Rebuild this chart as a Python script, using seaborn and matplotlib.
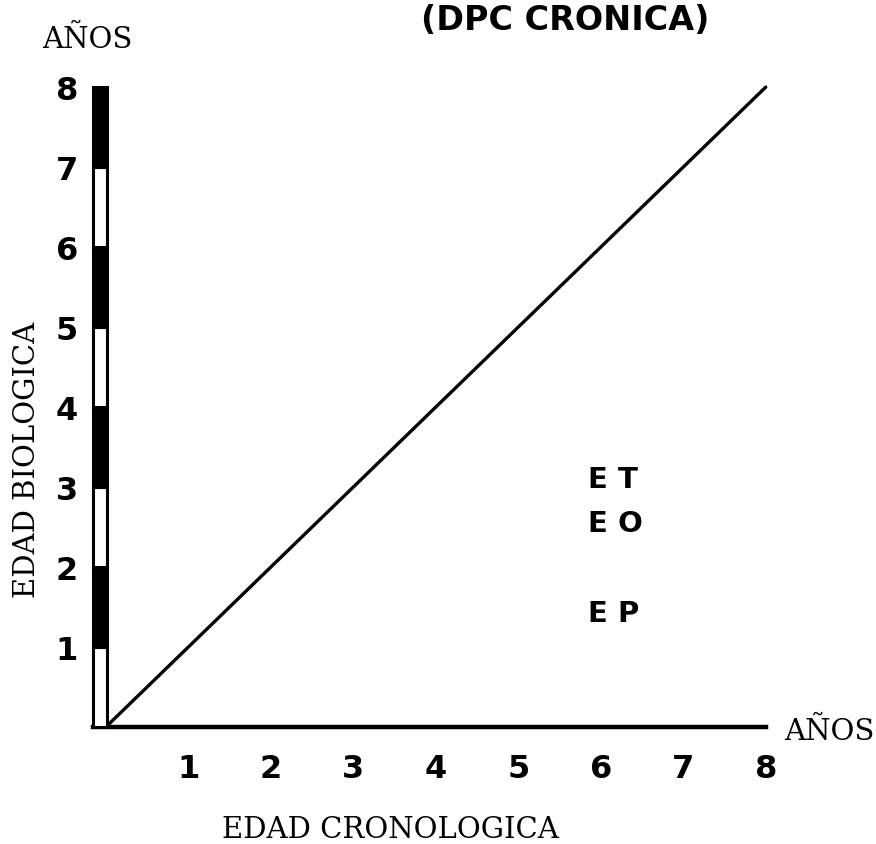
import matplotlib
matplotlib.use("Agg")
import matplotlib.pyplot as plt
import seaborn as sns
import pandas as pd

# datos
edad_crono = [0, 8]          # diagonal edad cronologica
edad_bio = [0, 8]            # = edad biologica
segmentos = [0, 1, 2, 3, 4, 5, 6, 7]   # tramos de la barra (anos)
ticks_x = [1, 2, 3, 4, 5, 6, 7, 8]
ticks_y = [1, 2, 3, 4, 5, 6, 7, 8]
etiquetas = ['E T', 'E O', 'E P']
etiq_y = [3.1, 2.55, 1.42]

sns.set_style("white")
plt.rcParams['font.family'] = ['DejaVu Sans']
plt.rcParams['text.color'] = 'black'
plt.rcParams['xtick.color'] = 'black'
plt.rcParams['ytick.color'] = 'black'

fig = plt.figure(figsize=(8.76, 8.45), dpi=100)
ax = fig.add_axes([0.102, 0.1337, 0.791, 0.781])

df = pd.DataFrame({'x': edad_crono, 'y': edad_bio})
sns.lineplot(data=df, x='x', y='y', color='black', linewidth=2.4, ax=ax)

# barra vertical blanco / negro
colores = ['white' if s % 2 == 0 else 'black' for s in segmentos]
ax.bar([-0.07] * len(segmentos), [1] * len(segmentos), bottom=segmentos,
       width=0.17, color=colores, edgecolor='black', linewidth=2.2, zorder=3)

ax.set_xlim(-0.2, 8.2)
ax.set_ylim(-0.05, 8.2)

for s in ['top', 'right', 'left']:
    ax.spines[s].set_visible(False)
ax.spines['bottom'].set_bounds(-0.16, 8)
ax.spines['bottom'].set_linewidth(3.2)
ax.spines['bottom'].set_color('black')
ax.spines['bottom'].set_position(('data', 0))

ax.set_xticks(ticks_x)
ax.set_xticklabels([str(t) for t in ticks_x], fontsize=23, fontweight='bold')
ax.tick_params(axis='x', direction='out', length=9, width=2, color='black', pad=10)
ax.set_yticks(ticks_y)
ax.set_yticklabels([str(t) for t in ticks_y], fontsize=23, fontweight='bold')
ax.tick_params(axis='y', length=0, pad=8)
ax.set_xlabel('')
ax.set_ylabel('')

for lab, yy in zip(etiquetas, etiq_y):
    ax.text(5.84, yy, lab, fontsize=21, fontweight='bold', va='center', ha='left')

ax.text(8.22, -0.05, 'AÑOS', fontsize=21, family='DejaVu Serif', va='center',
        ha='left', clip_on=False)

fig.text(0.048, 1 - 40 / 845, 'AÑOS', fontsize=21, family='DejaVu Serif',
         va='center', ha='left')
fig.text(390 / 876, 1 - 830 / 845, 'EDAD CRONOLOGICA', fontsize=21,
         family='DejaVu Serif', va='center', ha='center')
fig.text(27 / 876, 1 - 460 / 845, 'EDAD BIOLOGICA', fontsize=21,
         family='DejaVu Serif', va='center', ha='center', rotation=90)
fig.text(565 / 876, 1 - 30 / 845, '(DPC CRONICA)', fontsize=24,
         fontweight='bold', va='baseline', ha='center')

fig.savefig('out.png', dpi=100)
